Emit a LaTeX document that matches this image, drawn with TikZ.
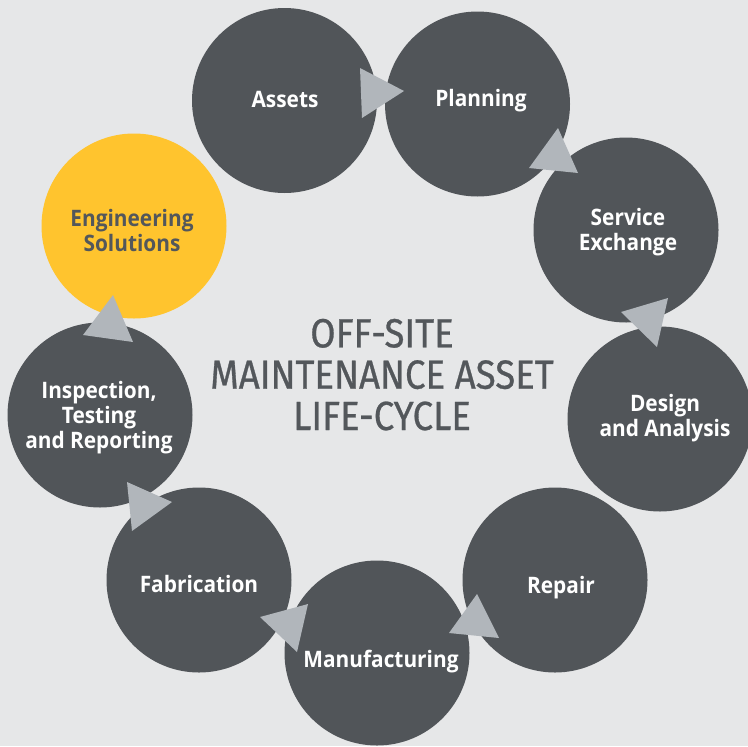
\documentclass[tikz,border=0pt]{standalone}
\usepackage{fontspec}
\newfontfamily\labelfont[FakeStretch=0.92]{Open Sans}
\newfontfamily\titlefont[FakeStretch=0.9,FakeBold=0.7]{Fira Sans}
\definecolor{bgc}{HTML}{E6E7E8}
\definecolor{circc}{HTML}{515559}
\definecolor{tric}{HTML}{B1B6BB}
\definecolor{yelc}{HTML}{FFC42E}
\definecolor{titc}{HTML}{53575B}
\tikzset{
  circ/.style={circle, fill=circc, inner sep=0pt, minimum size=138.75pt},
  ycirc/.style={circ, fill=yelc},
  lbl/.style={anchor=base, align=center, inner sep=0pt, text=white,
    font=\labelfont\bfseries\fontsize{17pt}{18.4pt}\selectfont},
  ylbl/.style={lbl, text=titc},
  tri/.style={fill=tric},
  ttl/.style={anchor=base, align=center, inner sep=0pt, text=titc,
    font=\titlefont\fontsize{30.5pt}{31pt}\selectfont}
}
\begin{document}
\begin{tikzpicture}[x=0.75pt,y=-0.75pt]
\fill[bgc] (0,0) rectangle (748,746);
\useasboundingbox (0,0) rectangle (748,746);
% circles
\node[circ] (assets) at (284.5,100.5) {};
\node[circ] (planning) at (477.5,104) {};
\node[circ] (service) at (626,230) {};
\node[circ] (design) at (660,419) {};
\node[circ] (repair) at (555,580) {};
\node[circ] (manuf) at (377,653) {};
\node[circ] (fab) at (199,580) {};
\node[circ] (insp) at (100,415) {};
\node[ycirc] (eng) at (134,226) {};
% labels (base = baseline of last line)
\node[lbl] (assetsT) at (285,107) {Assets};
\node[lbl] (planningT) at (481,106.7) {Planning};
\node[lbl] (serviceT) at (628,250) {Service\\Exchange};
\node[lbl] (designT) at (665,436) {Design\\and Analysis};
\node[lbl] (repairT) at (561,593) {Repair};
\node[lbl] (manufT) at (381,667) {Manufacturing};
\node[lbl] (fabT) at (199,592) {Fabrication};
\node[lbl] (inspT) at (99,448) {Inspection,\\Testing\\and Reporting};
\node[ylbl] (engT) at (132,251) {Engineering\\Solutions};
% arrowheads
\fill[tri] (360,68) -- (362,118) -- (404,91) -- cycle;
\fill[tri] (558,128) -- (529,168) -- (578,173) -- cycle;
\fill[tri] (621,312) -- (668,298) -- (657,347) -- cycle;
\fill[tri] (477,594) -- (449,633) -- (499,638) -- cycle;
\fill[tri] (308,604) -- (297,652) -- (260,617) -- cycle;
\fill[tri] (127,482) -- (132,531) -- (172,502) -- cycle;
\fill[tri] (113,295) -- (83,335) -- (133,342) -- cycle;
% title
\node[ttl] (title) at (382,430) {OFF-SITE\\MAINTENANCE ASSET\\LIFE-CYCLE};
\end{tikzpicture}
\end{document}
